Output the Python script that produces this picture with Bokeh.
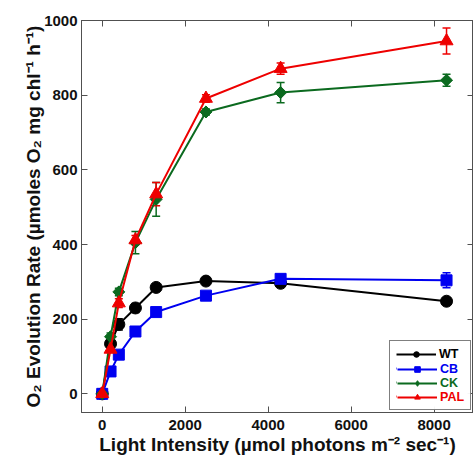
import math
from bokeh.plotting import figure
from bokeh.models import (ColumnDataSource, Whisker, TeeHead, Legend, LegendItem,
                          LinearAxis, FixedTicker, Range1d)
from bokeh.embed import file_html
from bokeh.resources import INLINE

# ---- data ----
light = [0, 200, 400, 800, 1300, 2500, 4300, 8300]
wt = [0, 134, 186, 230, 285, 302, 296, 248]
wt_err = [0, 8, 15, 12, 8, 8, 10, 8]
cb = [0, 60, 105, 167, 219, 263, 308, 304]
cb_err = [0, 5, 5, 8, 8, 8, 8, 20]
ck = [0, 153, 273, 405, 521, 755, 807, 840]
ck_err = [0, 10, 10, 30, 45, 8, 27, 16]
pal = [0, 119, 243, 412, 535, 791, 871, 945]
pal_err = [0, 8, 12, 12, 31, 10, 15, 35]

x_ticks = [0, 2000, 4000, 6000, 8000]
y_ticks = [0, 200, 400, 600, 800, 1000]

names = ["WT", "CB", "CK", "PAL"]
values = [wt, cb, ck, pal]
errors = [wt_err, cb_err, ck_err, pal_err]
colors = ["#000000", "#0000f0", "#0b6a1f", "#ee0000"]
markers = ["circle", "square", "square", "triangle"]
legend_markers = ["circle", "square", "diamond", "triangle"]
angles = [0, 0, math.pi / 4, 0]
msizes = [12, 11, 8.5, 13]
legend_sizes = [12, 11, 11.5, 13]

FONT = "Liberation Sans"
AX = "#505050"

p = figure(width=473, height=461, x_range=Range1d(-500, 8950), y_range=Range1d(-50, 1000),
           output_backend="svg", toolbar_location=None,
           min_border_left=81, min_border_right=0, min_border_top=20, min_border_bottom=49,
           x_axis_label="Light Intensity (µmol photons m⁻² sec⁻¹)",
           y_axis_label="O₂ Evolution Rate (µmoles O₂ mg chl⁻¹ h⁻¹)")
p.grid.visible = False
p.outline_line_color = AX

def style_axis(ax, ticks, labels=True):
    ax.ticker = FixedTicker(ticks=ticks)
    ax.major_tick_in = 6
    ax.major_tick_out = 0
    ax.minor_tick_in = 0
    ax.minor_tick_out = 0
    ax.axis_line_color = AX
    ax.major_tick_line_color = AX
    ax.major_tick_line_width = 1
    if labels:
        ax.major_label_text_font = FONT
        ax.major_label_text_font_style = "bold"
        ax.major_label_text_font_size = "15px"
        ax.major_label_text_color = "#111111"
        ax.axis_label_text_font = FONT
        ax.axis_label_text_font_style = "bold"
        ax.axis_label_text_font_size = "19px"
        ax.axis_label_text_color = "#111111"
    else:
        ax.major_label_text_font_size = "0px"
        ax.major_label_text_color = None
        ax.major_label_text_alpha = 0
        ax.major_label_standoff = 0
        ax.axis_label_standoff = 0

style_axis(p.xaxis[0], x_ticks)
p.xaxis[0].major_label_standoff = 7
p.xaxis[0].axis_label_standoff = 1
style_axis(p.yaxis[0], y_ticks)
p.yaxis[0].major_label_standoff = 4
p.yaxis[0].axis_label_standoff = -3

top_ax = LinearAxis()
style_axis(top_ax, x_ticks, labels=False)
p.add_layout(top_ax, "above")
right_ax = LinearAxis()
style_axis(right_ax, y_ticks, labels=False)
p.add_layout(right_ax, "right")

items = []
for name, vals, errs, col, mk, lmk, ang, ms, lms in zip(
        names, values, errors, colors, markers, legend_markers, angles, msizes, legend_sizes):
    src = ColumnDataSource(dict(x=light, y=vals,
                                upper=[v + e for v, e in zip(vals, errs)],
                                lower=[v - e for v, e in zip(vals, errs)]))
    w = Whisker(base="x", upper="upper", lower="lower", source=src,
                line_color=col, line_width=1.5,
                upper_head=TeeHead(size=8, line_color=col, line_width=1.5),
                lower_head=TeeHead(size=8, line_color=col, line_width=1.5))
    p.add_layout(w)
    lr = p.line("x", "y", source=src, line_color=col, line_width=2)
    if lmk != mk:
        # same points, drawn beneath the rotated squares; gives the legend a diamond glyph
        leg_r = p.scatter("x", "y", source=src, marker=lmk, size=lms,
                          fill_color=col, line_color=col)
    sr = p.scatter("x", "y", source=src, marker=mk, angle=ang, size=ms,
                   fill_color=col, line_color=col)
    if lmk == mk:
        leg_r = sr
    items.append((name, col, [lr, leg_r]))

ROW = 14
PAD = 6
GW = 40
STAND = 3
LW = 25
MARGIN = 2
FRAME_W = 392

common = dict(margin=MARGIN, spacing=0, glyph_width=GW, glyph_height=ROW, label_height=ROW,
              label_width=LW, label_standoff=STAND, label_text_font=FONT,
              label_text_font_style="bold", label_text_font_size="12.5px")

leg = Legend(items=[LegendItem(label=n, renderers=r) for n, c, r in items],
             location="bottom_right", padding=PAD, border_line_color="black",
             border_line_width=1, label_text_color="#000000", **common)
p.add_layout(leg)
W_A = 2 * PAD + GW + STAND + LW
for i, (n, c, r) in enumerate(items):
    if i == 0:
        continue
    ov = Legend(items=[LegendItem(label=n, renderers=r)],
                location=(FRAME_W - MARGIN - W_A + PAD, MARGIN + PAD + (3 - i) * ROW), padding=0,
                border_line_color=None, background_fill_color="white", background_fill_alpha=1,
                label_text_color=c, **common)
    p.add_layout(ov)

open("out.html", "w").write(file_html(p, INLINE))
